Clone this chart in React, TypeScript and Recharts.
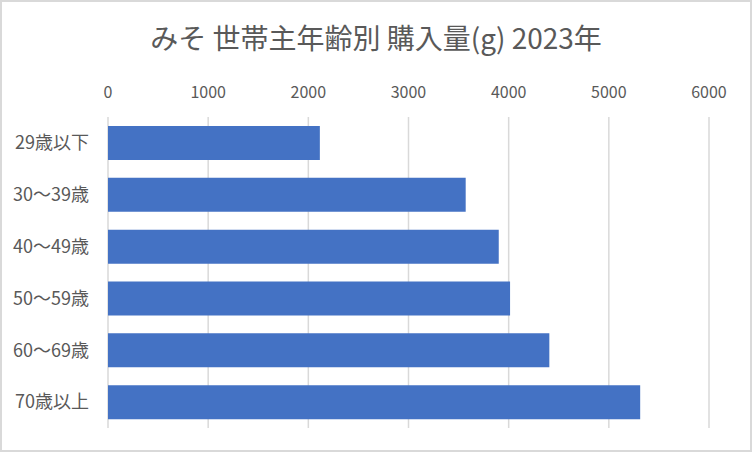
import {Bar, BarChart, CartesianGrid, XAxis, YAxis} from 'recharts';

const ageGroups = ['29歳以下', '30～39歳', '40～49歳', '50～59歳', '60～69歳', '70歳以上'];
const purchaseGrams = [2115, 3571, 3901, 4014, 4406, 5313];
const xTicks = [0, 1000, 2000, 3000, 4000, 5000, 6000];

const data = ageGroups.map((name, i) => ({name, value: purchaseGrams[i]}));

const font = '"Noto Sans CJK JP", "Noto Sans", sans-serif';

export default function App() {
    return (
        <div
            style={{
                position: 'absolute',
                top: 0,
                left: 0,
                width: 752,
                height: 452,
                background: '#fff',
                boxShadow: 'inset 0 0 0 2px #d9d9d9',
                fontFamily: font,
            }}
        >
            <div
                style={{
                    position: 'absolute',
                    top: 23,
                    left: 0,
                    width: 752,
                    textAlign: 'center',
                    fontSize: 28,
                    lineHeight: '28px',
                    color: '#595959',
                }}
            >
                みそ 世帯主年齢別 購入量(g) 2023年
            </div>
            <BarChart
                width={752}
                height={452}
                data={data}
                layout="vertical"
                style={{position: 'absolute', top: 0, left: 0}}
                margin={{top: 87, right: 43, left: 10, bottom: 24}}
            >
                <CartesianGrid horizontal={false} stroke="#d9d9d9" strokeWidth={1.5} />
                <XAxis
                    type="number"
                    orientation="top"
                    domain={[0, 6000]}
                    ticks={xTicks}
                    height={30}
                    axisLine={false}
                    tickLine={false}
                    tickSize={0}
                    tickMargin={19}
                    tick={{fill: '#595959', fontSize: 16, fontFamily: font}}
                />
                <YAxis
                    type="category"
                    dataKey="name"
                    width={98}
                    axisLine={false}
                    tickLine={false}
                    tickSize={0}
                    tickMargin={19}
                    tick={{fill: '#595959', fontSize: 18, fontFamily: font}}
                />
                <Bar dataKey="value" fill="#4472c4" barSize={34} isAnimationActive={false} />
            </BarChart>
        </div>
    );
}
